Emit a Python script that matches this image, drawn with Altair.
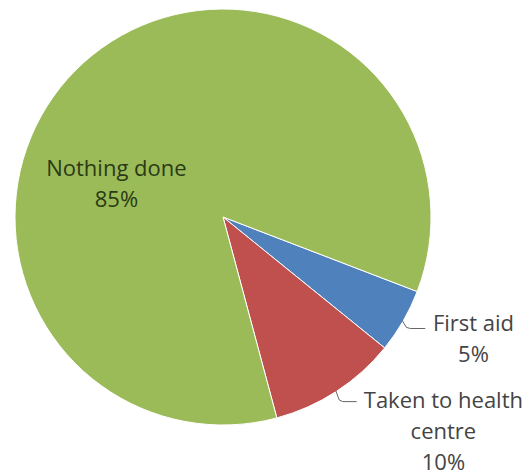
import altair as alt
import pandas as pd
import numpy as np

# ---- data ----
categories = ["First aid", "Taken to health centre", "Nothing done"]
values = [5, 10, 85]
labels = ["First aid\n5%", "Taken to health\ncentre\n10%", "Nothing done\n85%"]
colors = ["#4F81BD", "#C0504D", "#9BBB59"]

# ---- layout constants ----
W, H = 446, 434
R = 208
START = np.deg2rad(111)
CX, CY = W / 2, H / 2

df = pd.DataFrame({"category": categories, "value": values,
                   "idx": list(range(len(categories))), "label": labels})

theta_scale = alt.Scale(domain=[0, 100], range=[START, START + 2 * np.pi])

base = alt.Chart(df)

arcs = base.mark_arc(radius=R, stroke="#ffffff", strokeWidth=1).encode(
    theta=alt.Theta("value:Q", stack=True, scale=theta_scale),
    color=alt.Color("category:N", scale=alt.Scale(domain=categories, range=colors), legend=None),
    order=alt.Order("idx:Q"),
)

mid = base.transform_window(
    cum="sum(value)", sort=[alt.SortField("idx")], frame=[None, 0]
).transform_calculate(mid="datum.cum - datum.value / 2")


def label_layer(cat, radius, dx, dy, color):
    return mid.transform_filter(alt.datum.category == cat).mark_text(
        radius=radius, dx=dx, dy=dy, font="Open Sans", fontSize=22,
        lineBreak="\n", lineHeight=31, align="center", baseline="middle", fill=color,
    ).encode(
        theta=alt.Theta("mid:Q", scale=theta_scale),
        text="label:N",
    )


t_blue = label_layer("First aid", 280, 8, -33, "#444444")
t_red = label_layer("Taken to health centre", 300, 57, -68, "#444444")
t_green = label_layer("Nothing done", 110, -33, 34, "#2b3a14")

# leader lines from rim at slice mid-angle (computed from values)
cum = np.cumsum(values)
mids = (cum - np.array(values) / 2) / 100 * 2 * np.pi + START
rows = []
hooks = {0: (8, 8, 23), 1: (7, 11, 21)}
for i, (dxh, dyh, dxe) in hooks.items():
    rx = CX + (R - 1) * np.sin(mids[i])
    ry = CY - (R - 1) * np.cos(mids[i])
    pts = [(rx, ry), (rx + dxh * 0.5, ry + dyh * 0.85), (rx + dxh, ry + dyh), (rx + dxe, ry + dyh)]
    for k, (px, py) in enumerate(pts):
        rows.append({"leader": categories[i], "k": k, "x": px, "y": py})
ldf = pd.DataFrame(rows)

leaders = alt.Chart(ldf).mark_line(color="#666666", strokeWidth=1).encode(
    x=alt.X("x:Q", scale=alt.Scale(domain=[0, W]), axis=None),
    y=alt.Y("y:Q", scale=alt.Scale(domain=[0, H], reverse=True), axis=None),
    detail="leader:N",
    order="k:Q",
)

chart = alt.layer(arcs, leaders, t_blue, t_red, t_green).properties(
    width=W, height=H,
    padding={"left": 0, "top": 0, "right": 82, "bottom": 42},
    autosize="none",
    background="#ffffff",
).configure_view(stroke=None)

chart.save("out.html", embed_options={"renderer": "svg", "actions": False})
